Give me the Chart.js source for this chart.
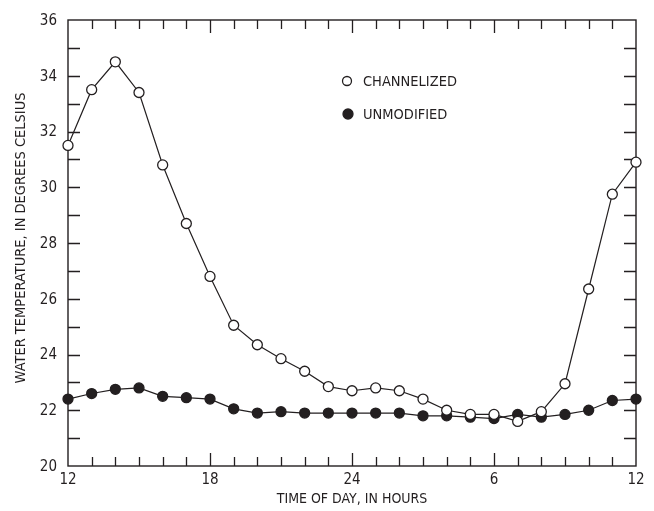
<!DOCTYPE html>
<html><head><meta charset="utf-8">
<script src="https://cdn.jsdelivr.net/npm/chart.js@4"></script>
<style>html,body{margin:0;padding:0;background:#fff;} #wrap{width:654px;height:511px;position:relative;}</style>
</head><body><div id="wrap"><canvas id="c" width="654" height="511"></canvas></div>
<script>
const hours = ['12','13','14','15','16','17','18','19','20','21','22','23','24','1','2','3','4','5','6','7','8','9','10','11','12'];
const channelized = [31.5,33.5,34.5,33.4,30.8,28.7,26.8,25.05,24.35,23.85,23.4,22.85,22.7,22.8,22.7,22.4,22.0,21.85,21.85,21.6,21.95,22.95,26.35,29.75,30.9];
const unmodified = [22.4,22.6,22.75,22.8,22.5,22.45,22.4,22.05,21.9,21.95,21.9,21.9,21.9,21.9,21.9,21.8,21.8,21.75,21.7,21.85,21.75,21.85,22.0,22.35,22.4];
const yLabelValues = [20,22,24,26,28,30,32,34,36];
const seriesNames = ['CHANNELIZED','UNMODIFIED'];
const xTitle = 'TIME OF DAY, IN HOURS';
const yTitle = 'WATER TEMPERATURE, IN DEGREES CELSIUS';

const INK = '#231f20';
const FAM = "'Liberation Sans Narrow','Arial Narrow','DejaVu Sans Condensed',sans-serif";

const framePlugin = {
  id: 'frame',
  beforeDatasetsDraw(chart) {
    const {ctx, chartArea: a, scales: {x, y}} = chart;
    ctx.save();
    ctx.strokeStyle = INK;
    ctx.lineWidth = 1.4;
    ctx.strokeRect(a.left, a.top, a.right - a.left, a.bottom - a.top);
    ctx.lineWidth = 1.3;
    ctx.beginPath();
    for (let i = 1; i < hours.length - 1; i++) {
      const px = Math.round(x.getPixelForValue(i)) + 0.5;
      const len = (i % 6 === 0) ? 13 : 9;
      ctx.moveTo(px, a.bottom); ctx.lineTo(px, a.bottom - len);
      ctx.moveTo(px, a.top); ctx.lineTo(px, a.top + len);
    }
    for (let v = y.min + 1; v < y.max; v++) {
      const py = Math.round(y.getPixelForValue(v)) + 0.5;
      ctx.moveTo(a.left, py); ctx.lineTo(a.left + 12, py);
      ctx.moveTo(a.right, py); ctx.lineTo(a.right - 12, py);
    }
    ctx.stroke();
    // y axis title
    ctx.fillStyle = INK;
    ctx.font = "14.5px " + FAM;
    ctx.textAlign = 'center';
    ctx.textBaseline = 'middle';
    ctx.translate(21, 238);
    ctx.rotate(-Math.PI / 2);
    ctx.fillText(yTitle, 0, 0);
    ctx.restore();
  },
  afterDraw(chart) {
    const {ctx} = chart;
    ctx.save();
    const items = chart.data.datasets;
    const pos = [[347, 81], [348, 114]];
    items.forEach((ds, i) => {
      const [cx, cy] = pos[i];
      ctx.beginPath();
      ctx.arc(cx, cy, i === 0 ? 4.5 : 5, 0, Math.PI * 2);
      ctx.fillStyle = ds.pointBackgroundColor;
      ctx.fill();
      ctx.lineWidth = 1.3;
      ctx.strokeStyle = ds.pointBorderColor;
      ctx.stroke();
      ctx.fillStyle = INK;
      ctx.font = "14.5px " + FAM;
      ctx.textAlign = 'left';
      ctx.textBaseline = 'middle';
      ctx.fillText(ds.label, 363, cy + 1);
    });
    ctx.restore();
  }
};

new Chart(document.getElementById('c'), {
  type: 'line',
  data: {
    labels: hours,
    datasets: [
      {label: seriesNames[0], data: channelized, borderColor: INK, borderWidth: 1.2,
       pointRadius: 5, pointBorderWidth: 1.3, pointBackgroundColor: '#ffffff', pointBorderColor: INK,
       tension: 0, clip: false},
      {label: seriesNames[1], data: unmodified, borderColor: INK, borderWidth: 1.2,
       pointRadius: 5, pointBorderWidth: 1.3, pointBackgroundColor: INK, pointBorderColor: INK,
       tension: 0, clip: false}
    ]
  },
  options: {
    responsive: false,
    animation: false,
    layout: {padding: {top: 15, right: 18, left: 0, bottom: 0}},
    plugins: {legend: {display: false}, tooltip: {enabled: false}},
    scales: {
      x: {
        type: 'category', offset: false,
        grid: {display: false, drawTicks: false},
        border: {display: false},
        ticks: {autoSkip: false, maxRotation: 0, padding: 5, color: INK,
                font: {family: FAM, size: 15},
                callback: (v, i) => (i % 6 === 0 ? hours[i] : '')},
        title: {display: true, text: xTitle, color: INK, font: {family: FAM, size: 14}, padding: {top: 0, bottom: 3}},
        afterFit: s => { s.height = 45; }
      },
      y: {
        type: 'linear', min: 20, max: 36,
        grid: {display: false, drawTicks: false},
        border: {display: false},
        ticks: {stepSize: 1, padding: 11, labelOffset: 1, color: INK,
                font: {family: FAM, size: 15},
                callback: v => (yLabelValues.includes(v) ? String(v) : '')},
        afterFit: s => { s.width = 68; }
      }
    }
  },
  plugins: [framePlugin]
});
</script>
</body></html>
